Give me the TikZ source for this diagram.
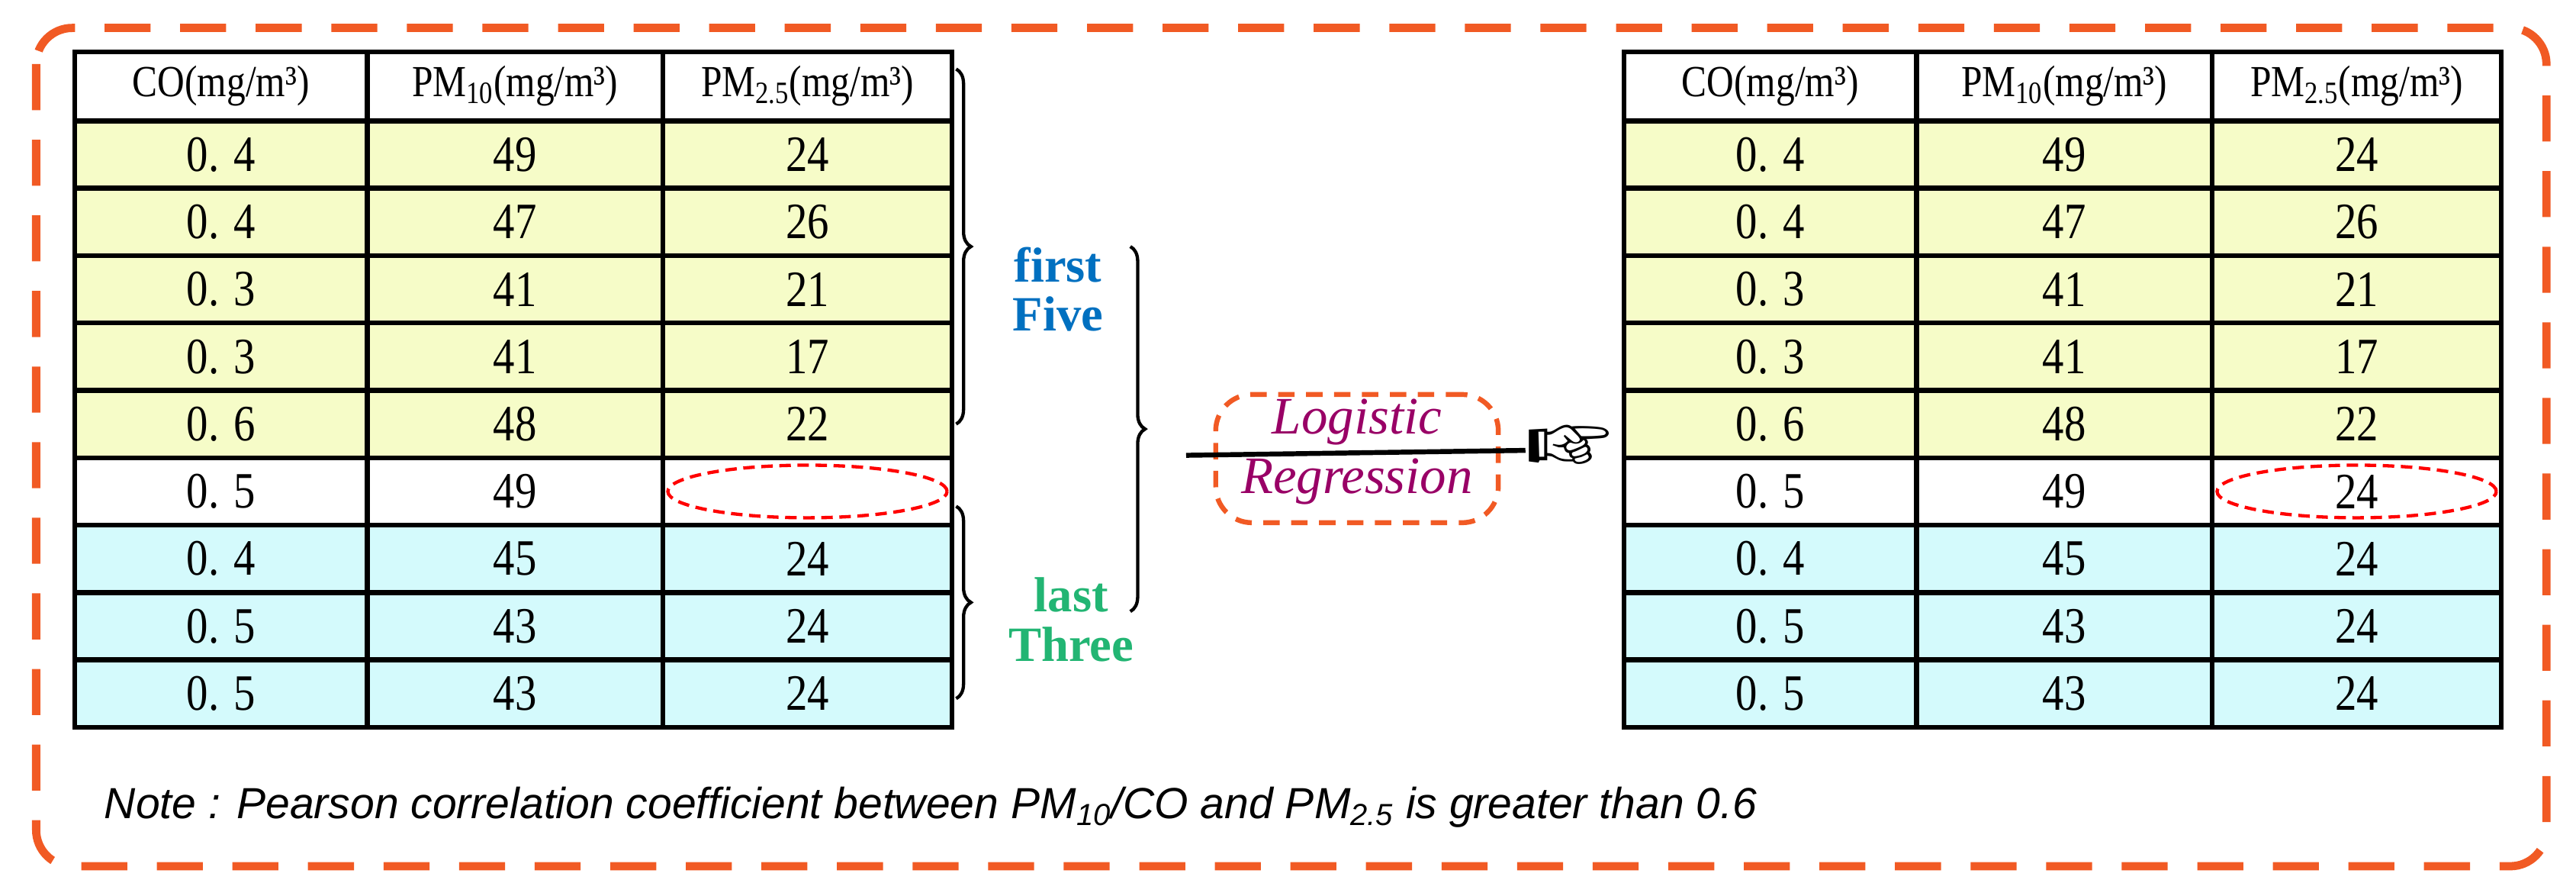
\documentclass[tikz,border=0pt]{standalone}
\usepackage{fontspec}
\setmainfont{Liberation Serif}
\newfontfamily\notef{Liberation Sans}
\usepackage{pifont}
\usetikzlibrary{shapes.geometric,decorations.pathreplacing}
\definecolor{bord}{HTML}{F15A24}
\definecolor{yel}{HTML}{F6FCC8}
\definecolor{cya}{HTML}{D4FAFC}
\definecolor{bl}{HTML}{0070C0}
\definecolor{gr}{HTML}{22B573}
\definecolor{pur}{HTML}{990066}
\newcommand{\numf}{\fontsize{31}{34}\selectfont}
\newcommand{\hdf}{\fontsize{27}{30}\selectfont}
\begin{document}
\begin{tikzpicture}[x=1pt,y=-1pt,
  cell/.style={draw,line width=3pt,minimum height=41pt,inner sep=0pt,anchor=north west,font=\numf},
  hcell/.style={cell,minimum height=42pt,fill=white,font=\hdf},
  ell/.style={ellipse,draw=red,line width=2pt,dash pattern=on 7pt off 4pt,minimum width=170pt,minimum height=32pt},
  br/.style={decorate,decoration={brace,amplitude=9pt},line width=2pt},
  lab/.style={font=\fontsize{30}{30}\selectfont\bfseries,align=center,inner sep=1pt}]
\useasboundingbox (0,0) rectangle (1568,545);
\fill[white] (0,0) rectangle (1568,545);
\draw[bord,line width=5pt,dash pattern=on 28pt off 18pt,rounded corners=22pt] (22,17) rectangle (1550,527);
\foreach \T/\x in {L/44,R/987}{
  \node[hcell,minimum width=178pt] (\T-0-1) at (\x,30) {\scalebox{0.85}[1]{CO(mg/m³)}};
  \node[hcell,minimum width=180pt] (\T-0-2) at (\x+178,30) {\scalebox{0.85}[1]{PM\textsubscript{10}(mg/m³)}};
  \node[hcell,minimum width=176pt] (\T-0-3) at (\x+358,30) {\scalebox{0.85}[1]{PM\textsubscript{2.5}(mg/m³)}};
  \foreach \r/\a/\b/\c/\f in {1/0. 4/49/24/yel,2/0. 4/47/26/yel,3/0. 3/41/21/yel,4/0. 3/41/17/yel,5/0. 6/48/22/yel,6/0. 5/49/24/white,7/0. 4/45/24/cya,8/0. 5/43/24/cya,9/0. 5/43/24/cya}{
    \pgfmathsetmacro\y{72+41*(\r-1)}
    \node[cell,fill=\f,minimum width=178pt] (\T-\r-1) at (\x,\y) {\scalebox{0.85}[1]{\a}};
    \node[cell,fill=\f,minimum width=180pt] (\T-\r-2) at (\x+178,\y) {\scalebox{0.85}[1]{\b}};
    \node[cell,fill=\f,minimum width=176pt] (\T-\r-3) at (\x+358,\y) {\scalebox{0.85}[1]{\ifnum\r=6 \if\T L\else\c\fi\else\c\fi}};
  }
}
\node[ell] (e1) at (L-6-3) {};
\node[ell] (e2) at (R-6-3) {};
% braces
\coordinate (b1a) at (582,42); \coordinate (b1b) at (582,258);
\coordinate (b2a) at (582,308); \coordinate (b2b) at (582,425);
\coordinate (b3a) at (688,150); \coordinate (b3b) at (688,372);
\draw[br] (b1a) -- (b1b);
\draw[br] (b2a) -- (b2b);
\draw[br] (b3a) -- (b3b);
\node[lab,text=bl] (ff) at (644,176) {first\\Five};
\node[lab,text=gr] (lt) at (652,377) {last\\Three};
% logistic regression
\node[draw=bord,line width=3pt,dash pattern=on 10pt off 7pt,rounded corners=22pt,minimum width=172pt,minimum height=78pt] (lr) at (826,279) {};
\coordinate (ls) at (722,277);
\node[inner sep=0pt,font=\fontsize{56}{56}\selectfont] (hand) at (955,274) {\ding{43}};
\draw[line width=3pt] (ls) -- (hand.west);
\node[text=pur,font=\fontsize{32}{34}\selectfont\itshape] (t1) at (826,257) {Logistic};
\node[text=pur,font=\fontsize{32}{34}\selectfont\itshape] (t2) at (826,293) {Regression};
\node[anchor=west,font=\notef\fontsize{26.5}{30}\selectfont\itshape] (note) at (60,491) {Note : Pearson correlation coefficient between PM\textsubscript{10}/CO and PM\textsubscript{2.5} is greater than 0.6};
\end{tikzpicture}
\end{document}
